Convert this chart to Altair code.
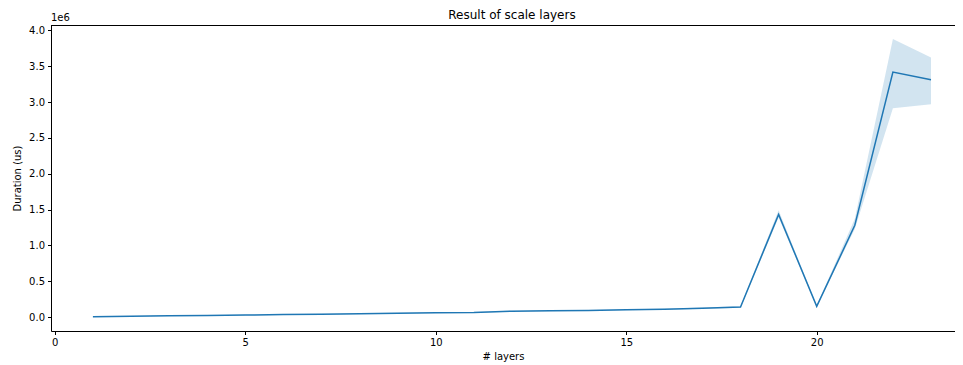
import altair as alt
import pandas as pd

layers = list(range(1, 24))
duration_mean = [3000, 10000, 17000, 22000, 28000, 34000, 40000, 47000, 54000, 60000,
                 64000, 82000, 88000, 92000, 101000, 108000, 124000, 140000, 1432000,
                 150000, 1280000, 3418000, 3310000]
duration_low = [1000, 7000, 13000, 18000, 24000, 30000, 36000, 42000, 49000, 55000,
                59000, 76000, 82000, 86000, 95000, 101000, 116000, 130000, 1390000,
                140000, 1230000, 2915000, 2970000]
duration_high = [5000, 13000, 21000, 26000, 32000, 38000, 44000, 52000, 59000, 65000,
                 69000, 88000, 94000, 98000, 107000, 115000, 132000, 150000, 1490000,
                 160000, 1370000, 3880000, 3620000]
x_ticks = [0, 5, 10, 15, 20]
y_ticks = [0, 500000, 1000000, 1500000, 2000000, 2500000, 3000000, 3500000, 4000000]

W, H = 904, 306

df = pd.DataFrame({"layers": layers, "mean": duration_mean,
                   "low": duration_low, "high": duration_high})

xscale = alt.Scale(domain=[-0.1, 23.63], nice=False, zero=False)
yscale = alt.Scale(domain=[-195000, 4075000], nice=False, zero=False)

xaxis = alt.Axis(title="# layers", values=x_ticks, grid=False, labelOverlap=False,
                 tickSize=3.5, labelPadding=3, titlePadding=4, labelFlush=False)
yaxis = alt.Axis(title="Duration (us)", values=y_ticks, grid=False, labelOverlap=False,
                 tickSize=3.5, labelPadding=3, titlePadding=6, labelFlush=False,
                 tickCount=9,
                 labelExpr="format(datum.value / 1000000, '.1f')")

base = alt.Chart(df)

band = base.mark_area(color="#1f77b4", opacity=0.2).encode(
    x=alt.X("layers:Q", scale=xscale, axis=xaxis),
    y=alt.Y("low:Q", scale=yscale, axis=yaxis),
    y2="high:Q",
)

line = base.mark_line(color="#1f77b4", strokeWidth=1.5).encode(
    x=alt.X("layers:Q", scale=xscale, axis=xaxis),
    y=alt.Y("mean:Q", scale=yscale, axis=yaxis),
)

top_spine = alt.Chart(pd.DataFrame({"k": [0]})).mark_rule(color="black", strokeWidth=1).encode(
    x=alt.value(0), x2=alt.value(W), y=alt.value(0.5)
)

offset = alt.Chart(pd.DataFrame({"t": ["1e6"]})).mark_text(
    align="left", baseline="bottom", fontSize=10, font="DejaVu Sans", color="black"
).encode(text="t:N", x=alt.value(0), y=alt.value(-2))

title = alt.Chart(pd.DataFrame({"t": ["Result of scale layers"]})).mark_text(
    align="center", baseline="alphabetic", fontSize=12, font="DejaVu Sans", color="black"
).encode(text="t:N", x=alt.value(461), y=alt.value(-6))

chart = alt.layer(band, line, top_spine, offset, title).properties(
    width=W, height=H,
    autosize=alt.AutoSizeParams(type="none"),
    padding={"left": 43, "top": 17, "right": 0, "bottom": 34},
).configure_view(
    stroke=None
).configure_axis(
    labelFont="DejaVu Sans", titleFont="DejaVu Sans", labelFontSize=10, titleFontSize=10,
    titleFontWeight="normal", labelColor="black", titleColor="black",
    domainColor="black", tickColor="black", domainWidth=1, tickWidth=1,
)

chart.save("out.html", embed_options={"renderer": "svg", "actions": False})
